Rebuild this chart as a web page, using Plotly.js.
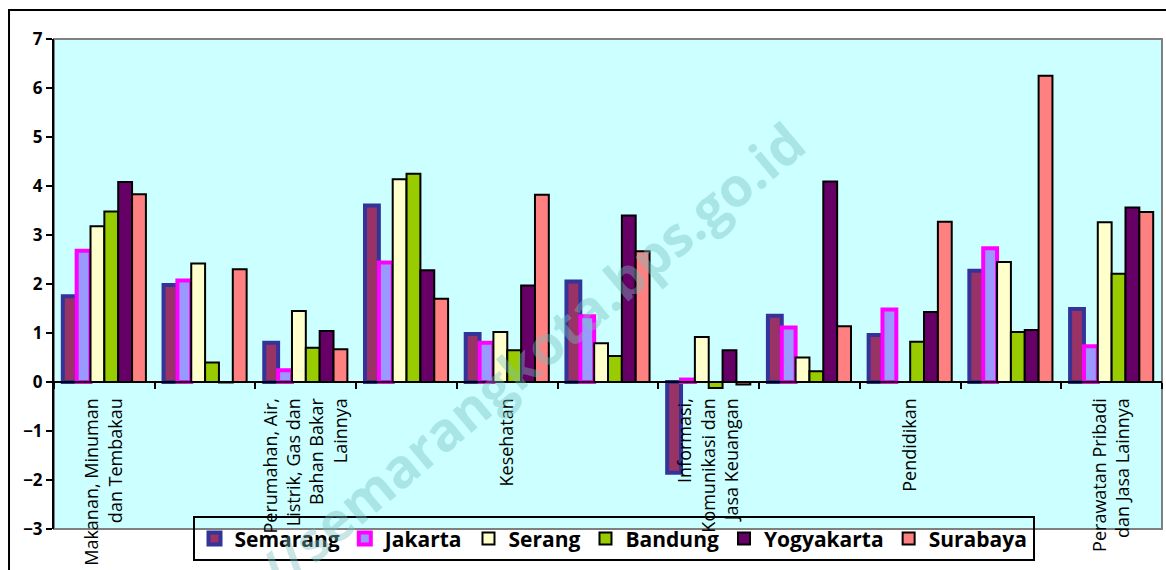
<!DOCTYPE html>
<html>
<head>
<meta charset="utf-8">
<script src="https://cdn.plot.ly/plotly-3.0.1.min.js"></script>
<style>
  body { margin: 0; background: #fff; }
  #plot { width: 1166px; height: 570px; }
</style>
</head>
<body>
<div id="plot"></div>
<script>
// kelompok pengeluaran (only every other one gets a label on the axis)
let categories = [
    "Makanan, Minuman dan Tembakau",
    "Pakaian dan Alas Kaki",
    "Perumahan, Air, Listrik, Gas dan Bahan Bakar Lainnya",
    "Perlengkapan, Peralatan dan Pemeliharaan Rutin Rumah Tangga",
    "Kesehatan",
    "Transportasi",
    "Informasi, Komunikasi dan Jasa Keuangan",
    "Rekreasi, Olahraga dan Budaya",
    "Pendidikan",
    "Penyediaan Makanan dan Minuman/Restoran",
    "Perawatan Pribadi dan Jasa Lainnya"
];

let tickLabels = [
    "Makanan, Minuman<br>dan Tembakau",
    "",
    "Perumahan, Air,<br>Listrik, Gas dan<br>Bahan Bakar<br>Lainnya",
    "",
    "Kesehatan",
    "",
    "Informasi,<br>Komunikasi dan<br>Jasa Keuangan",
    "",
    "Pendidikan",
    "",
    "Perawatan Pribadi<br>dan Jasa Lainnya"
];

let yTicks = [-3, -2, -1, 0, 1, 2, 3, 4, 5, 6, 7];

// values per kota, same order as categories
let semarang   = [1.75, 1.98, 0.80, 3.60, 0.98, 2.05, -1.85, 1.35, 0.96, 2.27, 1.49];
let jakarta    = [2.68, 2.07, 0.24, 2.44, 0.80, 1.34, 0.05, 1.11, 1.48, 2.73, 0.73];
let serang     = [3.18, 2.42, 1.45, 4.14, 1.02, 0.79, 0.92, 0.50, null, 2.45, 3.26];
let bandung    = [3.48, 0.40, 0.70, 4.25, 0.65, 0.53, -0.12, 0.22, 0.82, 1.02, 2.21];
let yogyakarta = [4.08, -0.01, 1.04, 2.28, 1.97, 3.40, 0.65, 4.09, 1.43, 1.06, 3.56];
let surabaya   = [3.83, 2.30, 0.67, 1.70, 3.82, 2.67, -0.05, 1.14, 3.27, 6.25, 3.47];

// one trace per kota
function makeTrace(name, values, fill, border, borderWidth) {
    return {
        x: categories,
        y: values,
        name: name,
        type: "bar",
        marker: { color: fill, line: { color: border, width: borderWidth } },
        hoverinfo: "skip"
    };
}

let data = [
    makeTrace("Semarang", semarang, "#993366", "#333399", 4),
    makeTrace("Jakarta", jakarta, "#9999FF", "#FF00FF", 4),
    makeTrace("Serang", serang, "#FFFFCC", "#000000", 2),
    makeTrace("Bandung", bandung, "#99CC00", "#000000", 2),
    makeTrace("Yogyakarta", yogyakarta, "#660066", "#000000", 2),
    makeTrace("Surabaya", surabaya, "#FF8080", "#000000", 2)
];

let layout = {
    width: 1166,
    height: 570,
    margin: { l: 54, r: 4, t: 39, b: 41 },
    paper_bgcolor: "#ffffff",
    plot_bgcolor: "#CCFFFF",
    barmode: "group",
    bargap: 0.175,
    bargroupgap: 0,
    font: { family: "Open Sans, sans-serif", color: "#000" },
    xaxis: {
        type: "category",
        anchor: "free",
        position: 0.3,  // puts the category axis on y = 0
        tickmode: "array",
        tickvals: categories,
        ticktext: tickLabels,
        tickson: "boundaries",
        ticks: "outside",
        ticklen: 6,
        tickwidth: 2,
        tickcolor: "#000",
        tickangle: -90,
        ticklabelstandoff: 8,
        tickfont: { family: "Open Sans, sans-serif", size: 18, color: "#000" },
        showline: true,
        linecolor: "#000",
        linewidth: 2,
        showgrid: false,
        zeroline: false,
        fixedrange: true
    },
    yaxis: {
        range: [-3, 7],
        tickmode: "array",
        tickvals: yTicks,
        ticks: "outside",
        ticklen: 6,
        tickwidth: 2,
        tickcolor: "#000",
        tickfont: { family: "Open Sans, sans-serif", size: 17, color: "#000", weight: "bold" },
        showline: true,
        linecolor: "#000",
        linewidth: 2,
        showgrid: false,
        zeroline: false,
        fixedrange: true
    },
    legend: {
        orientation: "h",
        x: 0.125,
        xanchor: "left",
        y: 0.026,
        yanchor: "top",
        bgcolor: "rgba(0,0,0,0)",
        bordercolor: "#000",
        borderwidth: 2,
        font: { family: "Open Sans, sans-serif", size: 21, color: "#000", weight: "bold" },
        itemclick: false,
        itemdoubleclick: false
    },
    shapes: [
        // grey frame round the plot area
        { type: "rect", xref: "paper", yref: "paper", x0: 0, x1: 1, y0: 0, y1: 1,
          line: { color: "#808080", width: 2 }, layer: "below" },
        // black frame round the whole chart
        { type: "rect", xref: "paper", yref: "paper", x0: -0.0406, x1: 1.01, y0: -0.1, y1: 1.0592,
          line: { color: "#000", width: 2 } }
    ],
    annotations: [
        {
            // site watermark running diagonally over the chart
            text: "https://semarangkota.bps.go.id",
            xref: "paper", yref: "paper",
            x: 0.375, y: 0.25,
            xanchor: "center", yanchor: "middle",
            textangle: -40,
            showarrow: false,
            font: { family: "Open Sans, sans-serif", size: 54, color: "rgba(120,190,190,0.4)", weight: "bold" }
        }
    ]
};

Plotly.newPlot("plot", data, layout, { displayModeBar: false, staticPlot: true });
</script>
</body>
</html>
